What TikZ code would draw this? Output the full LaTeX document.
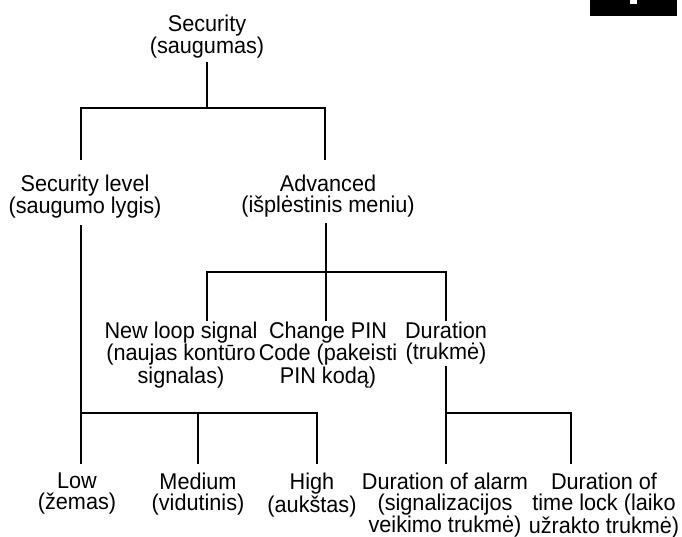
\documentclass[tikz,border=0pt]{standalone}
\usepackage{fontspec}
\setmainfont[FakeStretch=0.95]{Liberation Sans}
\tikzset{
  every picture/.style={line join=miter, line cap=rect},
  menu/.style={align=center, anchor=north, inner sep=0pt, font=\fontsize{22.8}{21}\selectfont},
  branch/.style={line width=2.4pt},
}
\begin{document}
\begin{tikzpicture}[x=1pt,y=-1pt]
\useasboundingbox (0,0) rectangle (682,537);
% corner tab
\fill (590,0) rectangle (677,16);
\fill[white] (630,0) rectangle (637,4.3);
% menu items
\node[menu] (sec) at (207,15) {Security\\(saugumas)};
\node[menu] (lvl) at (85,175) {Security level\\(saugumo lygis)};
\node[menu] (adv) at (328,175) {Advanced\\(išplėstinis meniu)};
\node[menu] (loop) at (181,322) {New loop signal\\(naujas kontūro\\signalas)};
\node[menu] (pin) at (328,322) {Change PIN\\Code (pakeisti\\PIN kodą)};
\node[menu] (dur) at (446,322) {Duration\\(trukmė)};
\node[menu] (low) at (77,473) {Low\\(žemas)};
\node[menu] (med) at (198,473) {Medium\\(vidutinis)};
\node[menu] (high) at (312,473) {High\\(aukštas)};
\node[menu] (alarm) at (445,473) {Duration of alarm\\(signalizacijos\\veikimo trukmė)};
\node[menu] (lock) at (604,473) {Duration of\\time lock (laiko\\užrakto trukmė)};
% line ends
\coordinate (sec-b) at (207,63);
\coordinate (sec-j) at (207,108);
\coordinate (lvl-t) at (81,159);
\coordinate (adv-t) at (325,159);
\coordinate (lvl-b) at (81,226);
\coordinate (lvl-j) at (81,413);
\coordinate (low-t) at (81,463);
\coordinate (med-j) at (198,413);
\coordinate (med-t) at (198,463);
\coordinate (high-j) at (317,413);
\coordinate (high-t) at (317,463);
\coordinate (adv-b) at (326,224);
\coordinate (adv-j) at (326,272);
\coordinate (loop-t) at (207,320);
\coordinate (pin-t) at (326,320);
\coordinate (dur-t) at (446,320);
\coordinate (dur-b) at (446,367);
\coordinate (dur-j) at (446,413);
\coordinate (alarm-t) at (446,463);
\coordinate (lock-t) at (571,463);
% Security
\draw[branch] (sec-b) -- (sec-j);
\draw[branch] (lvl-t) |- (sec-j) -| (adv-t);
% Security level
\draw[branch] (lvl-b) -- (low-t);
\draw[branch] (lvl-j) -- (high-j) -- (high-t);
\draw[branch] (med-j) -- (med-t);
% Advanced
\draw[branch] (adv-b) -- (adv-j);
\draw[branch] (loop-t) |- (adv-j) -| (dur-t);
\draw[branch] (adv-j) -- (pin-t);
% Duration
\draw[branch] (dur-b) -- (alarm-t);
\draw[branch] (dur-j) -| (lock-t);
\end{tikzpicture}
\end{document}
